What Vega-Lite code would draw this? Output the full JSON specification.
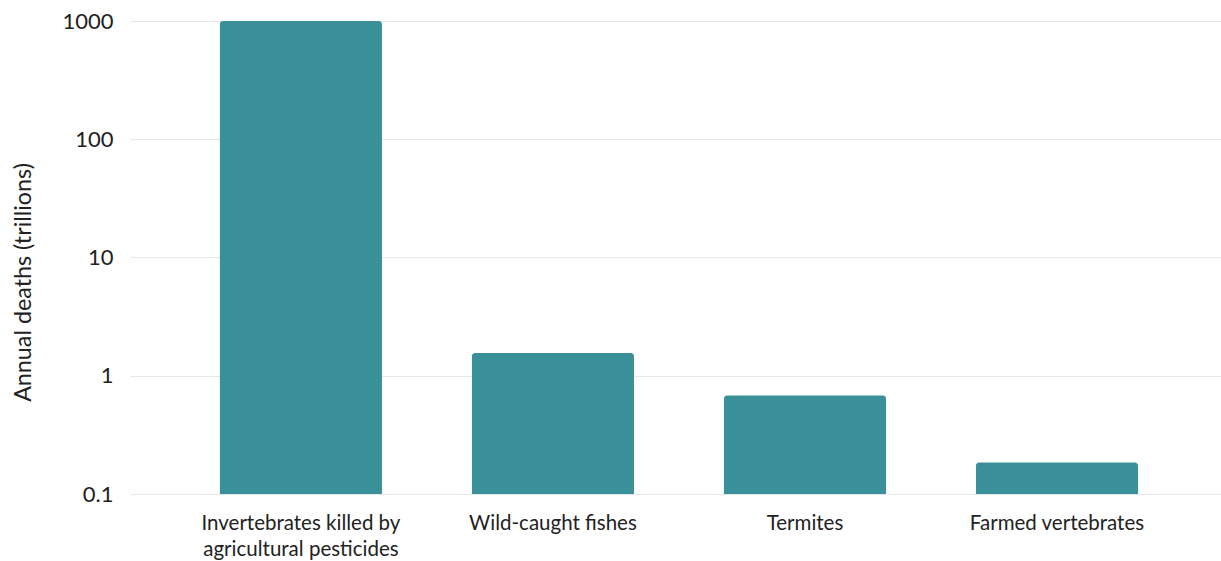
{
  "$schema": "https://vega.github.io/schema/vega-lite/v6.json",
  "width": 1091,
  "height": 473,
  "autosize": {"type": "none"},
  "padding": {"left": 130, "top": 21, "right": 0, "bottom": 67},
  "background": "white",
  "config": {
    "view": {"stroke": null},
    "font": "Lato"
  },
  "data": {
    "values": [
      {"category": "Invertebrates killed by agricultural pesticides", "deaths": 1000},
      {"category": "Wild-caught fishes", "deaths": 1.56},
      {"category": "Termites", "deaths": 0.68},
      {"category": "Farmed vertebrates", "deaths": 0.185}
    ]
  },
  "mark": {"type": "bar", "color": "#3a9099", "cornerRadiusTopLeft": 3, "cornerRadiusTopRight": 3},
  "encoding": {
    "x": {
      "field": "category",
      "type": "nominal",
      "sort": null,
      "scale": {"paddingInner": 0.357, "paddingOuter": 0.343, "align": 0.52},
      "axis": {
        "title": null,
        "labelAngle": 0,
        "labelFontSize": 20.5,
        "labelColor": "#222222",
        "labelPadding": 19,
        "labelLineHeight": 26,
        "labelLimit": 400,
        "ticks": false,
        "domain": false,
        "labelBaseline": "top",
        "labelExpr": "datum.value == 'Invertebrates killed by agricultural pesticides' ? ['Invertebrates killed by', 'agricultural pesticides'] : datum.value"
      }
    },
    "y": {
      "field": "deaths",
      "type": "quantitative",
      "stack": null,
      "scale": {"type": "log", "domain": [0.1, 1000], "nice": false},
      "axis": {
        "title": "Annual deaths (trillions)",
        "titleFontSize": 23.3,
        "titleFontWeight": "normal",
        "titleColor": "#222222",
        "titleX": -107,
        "titleY": 261,
        "titleBaseline": "middle",
        "values": [0.1, 1, 10, 100, 1000],
        "labelExpr": "datum.value < 1 ? '0.1' : format(datum.value, 'd')",
        "labelFontSize": 22,
        "labelColor": "#222222",
        "labelPadding": 17,
        "ticks": false,
        "domain": false,
        "grid": true,
        "gridColor": "#e6e6e6",
        "gridWidth": 1
      }
    },
    "y2": {"datum": 0.1}
  }
}
